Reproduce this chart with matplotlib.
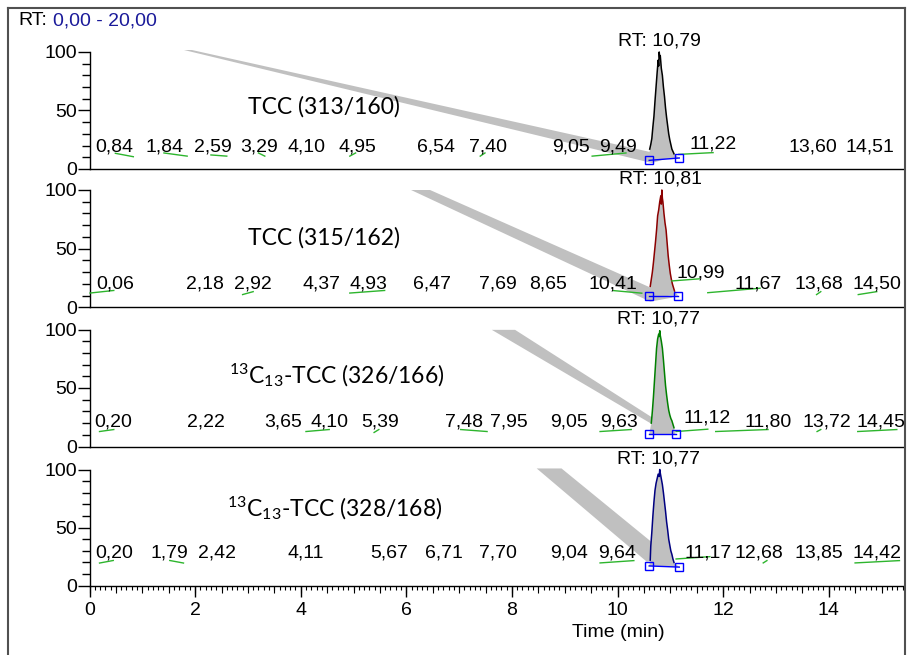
import numpy as np
import matplotlib.pyplot as plt
from matplotlib.ticker import MultipleLocator, FixedLocator
from matplotlib.lines import Line2D

plt.rcParams['font.family'] = ['Liberation Sans', 'DejaVu Sans']
plt.rcParams['mathtext.fontset'] = 'custom'
plt.rcParams['mathtext.rm'] = 'Lato'

W, H = 907, 655
FS = 14

# ---- data -------------------------------------------------------------
titles = ["TCC (313/160)", "TCC (315/162)",
          r"$\mathregular{^{13}}$C$\mathregular{_{13}}$-TCC (326/166)",
          r"$\mathregular{^{13}}$C$\mathregular{_{13}}$-TCC (328/168)"]
rt_text = ["10,79", "10,81", "10,77", "10,77"]
rt_vals = [10.79, 10.81, 10.77, 10.77]
trace_colors = ["black", "#8b0000", "#008000", "#000080"]

t1 = [10.61, 10.63, 10.65, 10.67, 10.69, 10.71, 10.73, 10.75, 10.77, 10.78, 10.79, 10.80, 10.81,
      10.83, 10.85, 10.87, 10.89, 10.91, 10.93, 10.95, 10.97, 10.99, 11.01, 11.03, 11.05, 11.07]
i1 = [17, 21, 26, 36, 45, 58, 70, 82, 93, 88, 100, 95, 97,
      86, 80, 70, 62, 52, 44, 37, 30, 25, 21, 17, 15, 13]
t2 = [10.62, 10.64, 10.66, 10.68, 10.70, 10.72, 10.74, 10.76, 10.78, 10.80, 10.82, 10.83, 10.84,
      10.85, 10.86, 10.88, 10.90, 10.92, 10.94, 10.96, 10.98, 11.00, 11.02, 11.04, 11.06, 11.08]
i2 = [18, 24, 30, 38, 47, 56, 66, 78, 83, 90, 95, 88, 100,
      93, 90, 80, 72, 66, 55, 44, 36, 29, 24, 20, 17, 14]
t3 = [10.64, 10.66, 10.68, 10.70, 10.72, 10.74, 10.76, 10.78, 10.79, 10.80, 10.81, 10.83,
      10.85, 10.87, 10.89, 10.91, 10.93, 10.95, 10.97, 10.99, 11.01, 11.03, 11.05, 11.07]
i3 = [20, 30, 42, 56, 70, 84, 92, 96, 94, 99, 95, 90,
      84, 74, 63, 52, 44, 37, 31, 27, 24, 22, 19, 16]
t4 = [10.62, 10.63, 10.65, 10.67, 10.69, 10.71, 10.73, 10.75, 10.77, 10.79, 10.80, 10.81, 10.83,
      10.85, 10.87, 10.89, 10.91, 10.93, 10.95, 10.97, 10.99, 11.01, 11.03, 11.05, 11.07]
i4 = [22, 34, 46, 60, 72, 82, 88, 92, 96, 94, 100, 97, 92,
      87, 80, 72, 64, 55, 48, 40, 35, 30, 27, 23, 20]
peak_t = [t1, t2, t3, t4]
peak_i = [i1, i2, i3, i4]

# integration baseline end points (time, intensity)
base_start = [(10.60, 7.4), (10.60, 10.0), (10.60, 10.4), (10.60, 17.0)]
base_end = [(11.17, 9.4), (11.15, 10.0), (11.10, 10.4), (11.17, 16.0)]

# noise peak labels
noise_text = [
    ["0,84", "1,84", "2,59", "3,29", "4,10", "4,95", "6,54", "7,40", "9,05", "9,49", "11,22", "13,60", "14,51"],
    ["0,06", "2,18", "2,92", "4,37", "4,93", "6,47", "7,69", "8,65", "10,41", "10,99", "11,67", "13,68", "14,50"],
    ["0,20", "2,22", "3,65", "4,10", "5,39", "7,48", "7,95", "9,05", "9,63", "11,12", "11,80", "13,72", "14,45"],
    ["0,20", "1,79", "2,42", "4,11", "5,67", "6,71", "7,70", "9,04", "9,64", "11,17", "12,68", "13,85", "14,42"],
]
noise_lx = [
    [0.47, 1.42, 2.33, 3.22, 4.11, 5.07, 6.56, 7.54, 9.11, 10.01, 11.82, 13.70, 14.79],
    [0.48, 2.18, 3.10, 4.39, 5.29, 6.49, 7.73, 8.69, 9.91, 11.57, 12.67, 13.82, 14.91],
    [0.45, 2.20, 3.66, 4.54, 5.50, 7.09, 7.94, 9.08, 10.02, 11.70, 12.86, 13.97, 14.99],
    [0.46, 1.52, 2.41, 4.10, 5.68, 6.72, 7.74, 9.09, 10.00, 11.71, 12.68, 13.81, 14.91],
]
noise_ly = [
    [19, 19, 19, 19, 19, 19, 19, 19, 19, 19, 21, 19, 19],
    [20, 20, 20, 20, 20, 20, 20, 20, 20, 29, 20, 20, 20],
    [21, 21, 21, 21, 21, 21, 21, 21, 21, 24.5, 21, 21, 21],
    [28, 28, 28, 28, 28, 28, 28, 28, 28, 28, 28, 28, 28],
]
# green noise-peak baselines (t0, y0, t1, y1)
noise_base = [
    [(0.49, 13.4, 0.83, 10.5), (1.41, 13.7, 1.85, 11), (2.30, 12, 2.60, 11), (3.20, 13.7, 3.32, 11),
     (4.93, 11, 5.04, 13.7), (7.40, 11, 7.49, 13.7), (9.52, 11, 10.16, 13.7), (11.16, 12.5, 11.81, 14)],
    [(0.01, 12.3, 0.46, 14.5), (2.90, 11, 3.10, 13.5), (4.93, 12.3, 5.59, 14.5), (9.92, 14.4, 10.46, 12.2),
     (11.03, 22.6, 11.55, 24.4), (11.71, 12.6, 12.70, 16.4), (13.77, 11, 13.85, 13.5), (14.56, 11, 14.91, 13.5)],
    [(0.19, 12.8, 0.46, 14.5), (4.10, 12.8, 4.54, 14.5), (5.39, 12, 5.48, 14.5), (7.03, 14.5, 7.53, 12.8),
     (9.67, 12.8, 10.26, 14.5), (11.11, 12.8, 11.71, 14.8), (11.86, 12.8, 12.85, 14.5),
     (13.78, 12.8, 13.85, 14.5), (14.55, 12.8, 15.29, 14.5)],
    [(0.19, 19.5, 0.45, 21.7), (1.52, 21.7, 1.78, 19.5), (9.67, 19.6, 10.31, 21.6), (11.11, 23, 11.75, 25),
     (12.76, 19.6, 12.83, 21.6), (14.50, 19.6, 15.34, 21.6)],
]
# grey diagonal bands
bands = [
    [(1.79, 101.7), (1.94, 101.7), (11.04, 10.3), (10.65, 5.1)],
    [(6.09, 100), (6.45, 100), (11.05, 8.5), (10.62, 5)],
    [(7.62, 99.7), (8.06, 99.7), (11.10, 12), (10.62, 20)],
    [(8.47, 100.9), (8.94, 100.9), (11.06, 22.2), (10.55, 20.8)],
]

# ---- layout (pixels) --------------------------------------------------
ax_left, ax_right = 89.5, 904
ax_tb = [(52, 169), (190, 307.5), (329.5, 446.5), (469.5, 585.7)]
title_pos = [(4.44, 53), (4.44, 59), (4.69, 61), (4.65, 67)]

fig = plt.figure(figsize=(W / 100, H / 100), dpi=100)

axes = []
for k, (top, bot) in enumerate(ax_tb):
    ax = fig.add_axes([ax_left / W, 1 - bot / H, (ax_right - ax_left) / W, (bot - top) / H])
    axes.append(ax)
    ax.set_xlim(0, (ax_right - ax_left) / 52.8)
    ax.set_ylim(0, 100)
    for s in ["top", "right"]:
        ax.spines[s].set_visible(False)
    ax.spines["left"].set_linewidth(1.0)
    ax.spines["bottom"].set_linewidth(1.0)
    ax.yaxis.set_major_locator(FixedLocator([0, 50, 100]))
    ax.yaxis.set_minor_locator(MultipleLocator(10))
    ax.tick_params(axis="y", which="major", length=8.6, width=1, labelsize=FS, pad=0.5)
    ax.tick_params(axis="y", which="minor", length=5.5, width=1)

    # grey band
    bx, by = zip(*bands[k])
    ax.fill(bx, by, color="#c0c0c0", lw=0, zorder=1, clip_on=False)

    # peak
    t = np.array(peak_t[k])
    y = np.array(peak_i[k])
    (x0, y0), (x1, y1) = base_start[k], base_end[k]
    ax.fill(np.r_[x0, t, x1], np.r_[y0, y, y1], color="#c0c0c0", lw=0, zorder=2, clip_on=False)
    ax.plot(t, y, color=trace_colors[k], lw=1.1, zorder=3, clip_on=False)
    ax.plot([x0, x1], [y0, y1], color="#0000ff", lw=1, marker="s", ms=6,
            mfc="none", mec="#0000ff", mew=1, zorder=4, clip_on=False)

    # noise labels
    for (a0, b0, a1, b1) in noise_base[k]:
        ax.plot([a0, a1], [b0, b1], color="#2db52d", lw=1, zorder=3, clip_on=False)
    for txt, lx, ly in zip(noise_text[k], noise_lx[k], noise_ly[k]):
        ax.text(lx, ly, txt, ha="center", va="center", fontsize=FS, zorder=5, clip_on=False)

    ax.text(rt_vals[k], 109, "RT: " + rt_text[k], ha="center", va="center", fontsize=FS,
            zorder=5, clip_on=False)
    ax.text(title_pos[k][0], title_pos[k][1], titles[k], ha="center", va="center",
            fontsize=16.5, family="Lato", zorder=5)

    if k < 3:
        ax.tick_params(axis="x", which="both", bottom=False, labelbottom=False)

ax = axes[-1]
ax.xaxis.set_major_locator(MultipleLocator(2))
ax.xaxis.set_minor_locator(MultipleLocator(0.1))
ax.tick_params(axis="x", which="major", length=8, width=1, labelsize=FS, pad=4)
ax.tick_params(axis="x", which="minor", length=2.7, width=0.8)
sec = ax.secondary_xaxis("bottom")
sec.set_xticks(np.arange(0, 15.5, 0.5))
sec.tick_params(length=5, width=0.8, labelbottom=False)
sec.spines["bottom"].set_visible(False)

fig.text(618 / W, 1 - 632.7 / H, "Time (min)", ha="center", va="center", fontsize=FS)

# header
fig.text(18 / W, 1 - 20.7 / H, "RT:", ha="left", va="center", fontsize=FS)
fig.text(53.3 / W, 1 - 20.7 / H, "0,00 - 20,00", ha="left", va="center", fontsize=FS, color="#1a1a9a")

# outer frame
fc = "#505050"
fig.add_artist(Line2D([8 / W, 905 / W], [1 - 8 / H, 1 - 8 / H], color=fc, lw=1.5))
fig.add_artist(Line2D([8 / W, 8 / W], [0, 1 - 8 / H], color=fc, lw=1.5))
fig.add_artist(Line2D([905 / W, 905 / W], [0, 1 - 8 / H], color=fc, lw=1.5))

fig.savefig("out.png", dpi=100)
